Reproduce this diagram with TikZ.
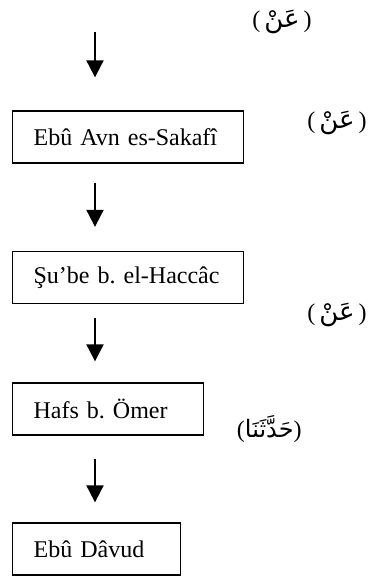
\documentclass[tikz,border=0pt]{standalone}
\usepackage{fontspec}
\setmainfont{Liberation Serif}
\newfontfamily\arabicfont[Script=Arabic]{DejaVu Sans}
\TeXXeTstate=1
\usetikzlibrary{arrows.meta, positioning, calc}
\tikzset{
  ravi/.style={draw, line width=0.65pt, anchor=west, align=left, inner xsep=10.5pt,
    minimum height=26pt, font=\fontsize{12}{14}\selectfont\frenchspacing},
  sigha/.style={font=\fontsize{12}{14}\selectfont, inner sep=0pt, anchor=east},
  flow/.style={-{Triangle[width=8.5pt,length=8.5pt]}, line width=1pt}
}

\begin{document}
\begin{tikzpicture}[x=0.5pt, y=-0.5pt]
    \useasboundingbox (0,0) rectangle (370,581);
    \coordinate (top) at (95,32);
    \node[ravi, text width=94.5pt] (ravi1) at (12,137) {Ebû Avn es-Sakafî};
    \node[ravi, text width=94.5pt] (ravi2) at (12,277.5) {\mbox{Şu’be b. el-Haccâc}};
    \node[ravi, text width=74.5pt] (ravi3) at (12,409) {Hafs b. Ömer};
    \node[ravi, text width=63pt] (ravi4) at (12,549) {Ebû Dâvud};
    \node[sigha] (an1) at (312,22) {(\hspace{2pt}{\fontsize{13}{14}\arabicfont\beginR عَنْ\endR}\hspace{2pt})};
    \node[sigha] (an2) at (367,123) {(\hspace{2pt}{\fontsize{13}{14}\arabicfont\beginR عَنْ\endR}\hspace{2pt})};
    \node[sigha] (an3) at (367,315) {(\hspace{2pt}{\fontsize{13}{14}\arabicfont\beginR عَنْ\endR}\hspace{2pt})};
    \node[sigha] (haddesena) at (302,429) {({\fontsize{12}{14}\arabicfont\beginR حَدَّثَنَا\endR})};
    \draw[flow, shorten >=16.5pt] (top) -- (top |- ravi1.north);
    \draw[flow, shorten <=9.5pt, shorten >=12pt] (top |- ravi1.south) -- (top |- ravi2.north);
    \draw[flow, shorten <=7pt, shorten >=10.5pt] (top |- ravi2.south) -- (top |- ravi3.north);
    \draw[flow, shorten <=11.5pt, shorten >=10pt] (top |- ravi3.south) -- (top |- ravi4.north);
  \end{tikzpicture}
\end{document}
